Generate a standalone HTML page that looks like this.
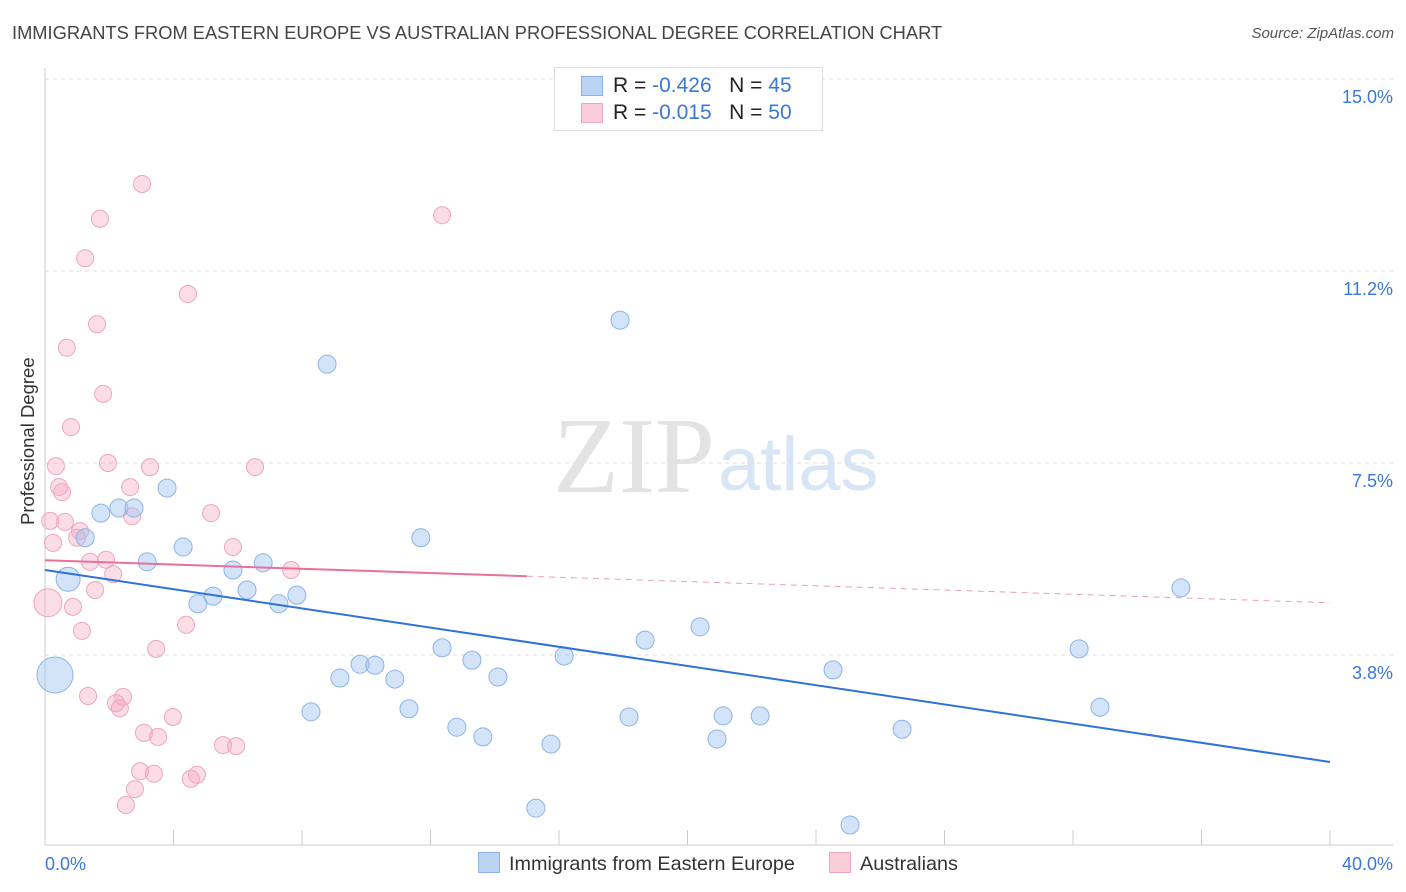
<!DOCTYPE html>
<html><head><meta charset="utf-8">
<style>
body{margin:0;background:#fff;font-family:"Liberation Sans",sans-serif;}
#wrap{position:relative;width:1406px;height:892px;overflow:hidden;}
.t{position:absolute;white-space:nowrap;}
</style></head>
<body>
<div id="wrap">
<div class="t" style="left:12px;top:22px;font-size:18.3px;color:#444;">IMMIGRANTS FROM EASTERN EUROPE VS AUSTRALIAN PROFESSIONAL DEGREE CORRELATION CHART</div>
<div class="t" style="right:12px;top:25px;font-size:15px;color:#555;font-style:italic;">Source: ZipAtlas.com</div>
<svg id="svg" width="1406" height="892" style="position:absolute;left:0;top:0"></svg>
</div>
<script>
const yTicks=[3.75,7.5,11.25,15];
const yTickLabels=["3.8%","7.5%","11.2%","15.0%"];
const xTickLabels=["0.0%","40.0%"];
const blueX=[0.72,0.31,1.25,1.74,2.30,2.77,3.18,3.80,4.30,4.76,5.23,5.85,6.29,6.79,7.28,7.84,8.78,8.28,9.18,9.81,10.27,10.89,11.33,11.70,12.36,12.82,13.29,13.63,14.10,15.28,15.75,16.16,17.90,18.18,18.68,20.39,20.92,21.11,22.26,24.53,25.06,26.68,32.19,32.84,35.36];
const blueY=[5.23,3.36,6.04,6.52,6.62,6.62,5.57,7.01,5.86,4.75,4.90,5.41,5.02,5.55,4.75,4.92,9.43,2.64,3.30,3.57,3.55,3.28,2.70,6.04,3.89,2.34,3.65,2.15,3.32,0.76,2.01,3.73,10.29,2.54,4.04,4.30,2.11,2.56,2.56,3.46,0.43,2.30,3.87,2.73,5.06];
const blueR=[12,18,9,9,9,9,9,9,9,9,9,9,9,9,9,9,9,9,9,9,9,9,9,9,9,9,9,9,9,9,9,9,9,9,9,9,9,9,9,9,9,9,9,9,9];
const pinkX=[3.02,1.71,12.36,1.25,4.45,1.62,0.68,1.81,0.81,0.34,1.96,3.27,6.54,0.44,0.53,2.65,5.17,0.16,0.62,2.71,1.09,1.00,0.25,5.85,1.40,1.90,2.12,7.66,0.09,1.56,0.87,4.39,1.15,3.46,1.34,2.43,2.21,2.33,3.98,3.08,3.52,5.54,5.95,2.96,3.39,4.73,4.54,2.80,2.52];
const pinkY=[12.95,12.27,12.34,11.50,10.80,10.21,9.75,8.85,8.20,7.44,7.50,7.42,7.42,7.03,6.93,7.03,6.52,6.37,6.35,6.46,6.17,6.04,5.94,5.86,5.57,5.61,5.33,5.41,4.77,5.02,4.69,4.34,4.22,3.87,2.95,2.93,2.81,2.71,2.54,2.23,2.15,1.99,1.97,1.48,1.43,1.41,1.33,1.13,0.82];
const pinkR=pinkX.map((v,i)=>i==28?14:8.5);
const blueTrend=[5.41,1.66];
const pinkTrend=[5.60,4.77];

const X=v=>45+v*32.125, Y=v=>847-v*51.2;
const NS="http://www.w3.org/2000/svg", svg=document.getElementById('svg');
function mk(tag,a){const e=document.createElementNS(NS,tag);for(const k in a)e.setAttribute(k,a[k]);svg.appendChild(e);return e;}
yTicks.forEach((v,i)=>{
 const g=mk('line',{x1:45,x2:1393,y1:Y(v),y2:Y(v),stroke:'#ddd','stroke-dasharray':'4,4'});
 
 
 const t=mk('text',{x:1393,y:Y(v)+24,'text-anchor':'end','font-size':18,fill:'#3a78d6','font-family':'Liberation Sans'});
 t.textContent=yTickLabels[i];
 
 
});
const ax=mk('line',{x1:45,x2:45,y1:68,y2:845,stroke:'#ccc'});


const bx=mk('line',{x1:45,x2:1393,y1:845,y2:845,stroke:'#ccc'});


for(let i=0;i<=10;i++){const tk=mk('line',{x1:X(i*4),x2:X(i*4),y1:830,y2:845,stroke:'#ccc'});
 
 }
[[0,'start',45],[1,'end',1393]].forEach(([i,a,x])=>{const t=mk('text',{x:x,y:870,'text-anchor':a,'font-size':18,fill:'#3a78d6','font-family':'Liberation Sans'});t.textContent=xTickLabels[i];
 
 });
const w1=mk('text',{x:553,y:492,'font-size':108,fill:'#e3e3e3','font-family':'Liberation Serif'});w1.textContent='ZIP';


const w2=mk('text',{x:718,y:490,'font-size':76,fill:'#d8e5f5','font-family':'Liberation Sans'});w2.textContent='atlas';


pinkX.forEach((v,i)=>{const c=mk('circle',{cx:X(v),cy:Y(pinkY[i]),r:pinkR[i],fill:'rgba(245,170,195,0.4)',stroke:'#eea6bd','stroke-width':1});
 
 });
blueX.forEach((v,i)=>{const c=mk('circle',{cx:X(v),cy:Y(blueY[i]),r:blueR[i],fill:'rgba(160,195,240,0.45)',stroke:'#8db3e6','stroke-width':1});
 
 });
const bl=mk('line',{x1:X(0),x2:X(40),y1:Y(blueTrend[0]),y2:Y(blueTrend[1]),stroke:'#2f72d8','stroke-width':2});


const pm=v=>pinkTrend[0]+(pinkTrend[1]-pinkTrend[0])*v/40;
const pl=mk('line',{x1:X(0),x2:X(15),y1:Y(pm(0)),y2:Y(pm(15)),stroke:'#e8709a','stroke-width':2});


const pd=mk('line',{x1:X(15),x2:X(40),y1:Y(pm(15)),y2:Y(pm(40)),stroke:'#e8a0b8','stroke-width':1,'stroke-dasharray':'6,5'});


</script>
<div style="position:absolute;left:554px;top:67px;width:267px;height:62px;border:1px solid #ddd;background:#fff;font-size:21px;color:#222;">
 <div style="position:absolute;left:26px;top:8px;width:20px;height:18px;background:#bcd4f4;border:1px solid #8db3e6"></div>
 <div class="t" style="left:58px;top:6px;">R = <span style="color:#3a78d6">-0.426</span>&nbsp;&nbsp;&nbsp;N = <span style="color:#3a78d6">45</span></div>
 <div style="position:absolute;left:26px;top:35px;width:20px;height:18px;background:#f9ccd9;border:1px solid #eea6bd"></div>
 <div class="t" style="left:58px;top:33px;">R = <span style="color:#3a78d6">-0.015</span>&nbsp;&nbsp;&nbsp;N = <span style="color:#3a78d6">50</span></div>
</div>
<div class="t" style="left:-42px;top:444px;transform:rotate(-90deg);font-size:18.5px;color:#333;width:140px;text-align:center;">Professional Degree</div>
<div style="position:absolute;left:478px;top:852px;font-size:19.8px;color:#333;white-space:nowrap;">
 <span style="display:inline-block;width:20px;height:19px;background:#bcd4f4;border:1px solid #8db3e6;vertical-align:-3px;margin-right:9px"></span>Immigrants from Eastern Europe</div>
<div style="position:absolute;left:829px;top:852px;font-size:19.8px;color:#333;white-space:nowrap;">
 <span style="display:inline-block;width:20px;height:19px;background:#f9ccd9;border:1px solid #eea6bd;vertical-align:-3px;margin-right:9px"></span>Australians</div>
</body></html>
